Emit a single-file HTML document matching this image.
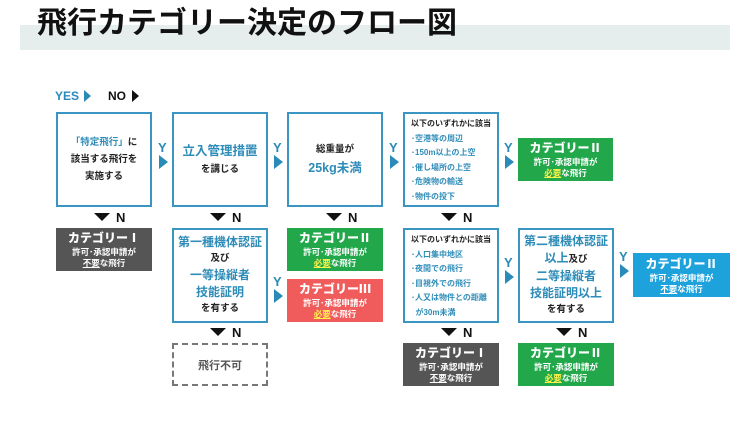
<!DOCTYPE html>
<html><head><meta charset="utf-8"><style>
body{margin:0;width:750px;height:446px;background:#fff;position:relative;overflow:hidden;font-family:"Liberation Sans","Noto Sans CJK JP",sans-serif;font-weight:bold}
.a{position:absolute;box-sizing:border-box}
.box{border:2.5px solid #3a95c2;background:#fff;display:flex;flex-direction:column;justify-content:center;align-items:center;text-align:center;color:#222;font-size:9.5px;line-height:17px;white-space:nowrap}
.bl{color:#2e8cb8}
.big{font-size:12.5px;line-height:20px}
.list{align-items:flex-start;justify-content:flex-start;padding:3px 0 0 6px;font-size:8px;line-height:14.6px;text-align:left}
.cat{display:flex;flex-direction:column;justify-content:center;align-items:center;color:#fff;text-align:center;font-size:8.5px;line-height:11px}
.cat b{font-size:12px;line-height:17px}
.g{background:#22a84b}.d{background:#555}.r{background:#f05b5b}.c{background:#1ea2dc}
.y{color:#fff34a;text-decoration:underline}
.tri{width:0;height:0;border-top:7px solid transparent;border-bottom:7px solid transparent;border-left:9px solid #2a8ab8}
.Y{color:#2a8ab8;font-size:13px}
.dn{width:0;height:0;border-left:8px solid transparent;border-right:8px solid transparent;border-top:8px solid #111}
.N{font-size:13px;color:#111}
.s{font-size:12px;line-height:17px}
</style></head><body>
<div class="a" style="left:20px;top:25px;width:710px;height:25px;background:#e6eded"></div>
<div class="a" style="left:37px;top:6px;font-size:30px;line-height:36px;color:#111;white-space:nowrap">飛行カテゴリー決定のフロー図</div>
<div class="a" style="left:55px;top:89px;font-size:12px;color:#2a8ab8">YES</div>
<div class="a tri" style="left:84px;top:90px;border-top-width:6px;border-bottom-width:6px;border-left-width:7px"></div>
<div class="a" style="left:108px;top:89px;font-size:12px;color:#111">NO</div>
<div class="a tri" style="left:132px;top:90px;border-top-width:6px;border-bottom-width:6px;border-left-width:7px;border-left-color:#111"></div>

<div class="a box" style="left:56px;top:112px;width:96px;height:95px"><div><span class="bl">「特定飛行」</span>に</div><div>該当する飛行を</div><div>実施する</div></div>
<div class="a box" style="left:172px;top:112px;width:96px;height:95px"><div class="bl big">立入管理措置</div><div>を講じる</div></div>
<div class="a box" style="left:287px;top:112px;width:96px;height:95px"><div>総重量が</div><div class="bl big">25kg未満</div></div>
<div class="a box list" style="left:403px;top:112px;width:96px;height:95px"><div style="color:#222">以下のいずれかに該当</div><div class="bl">･空港等の周辺</div><div class="bl">･150m以上の上空</div><div class="bl">･催し場所の上空</div><div class="bl">･危険物の輸送</div><div class="bl">･物件の投下</div></div>
<div class="a cat g" style="left:518px;top:138px;width:95px;height:43px"><b>カテゴリーⅡ</b><div>許可･承認申請が</div><div><span class="y">必要</span>な飛行</div></div>

<div class="a Y" style="left:158px;top:140px">Y</div><div class="a tri" style="left:159px;top:155px"></div>
<div class="a Y" style="left:273px;top:140px">Y</div><div class="a tri" style="left:274px;top:155px"></div>
<div class="a Y" style="left:389px;top:140px">Y</div><div class="a tri" style="left:390px;top:155px"></div>
<div class="a Y" style="left:504px;top:140px">Y</div><div class="a tri" style="left:505px;top:155px"></div>

<div class="a dn" style="left:94px;top:213px"></div><div class="a N" style="left:116px;top:210px">N</div>
<div class="a dn" style="left:210px;top:213px"></div><div class="a N" style="left:232px;top:210px">N</div>
<div class="a dn" style="left:326px;top:213px"></div><div class="a N" style="left:348px;top:210px">N</div>
<div class="a dn" style="left:441px;top:213px"></div><div class="a N" style="left:463px;top:210px">N</div>

<div class="a cat d" style="left:56px;top:228px;width:96px;height:43px"><b>カテゴリーⅠ</b><div>許可･承認申請が</div><div><u>不要</u>な飛行</div></div>
<div class="a box" style="left:172px;top:228px;width:96px;height:95px;line-height:16px"><div class="bl s">第一種機体認証</div><div>及び</div><div class="bl s">一等操縦者</div><div class="bl s">技能証明</div><div>を有する</div></div>
<div class="a cat g" style="left:287px;top:228px;width:96px;height:43px"><b>カテゴリーⅡ</b><div>許可･承認申請が</div><div><span class="y">必要</span>な飛行</div></div>
<div class="a cat r" style="left:287px;top:279px;width:96px;height:43px"><b>カテゴリーⅢ</b><div>許可･承認申請が</div><div><span class="y">必要</span>な飛行</div></div>
<div class="a box list" style="left:403px;top:228px;width:96px;height:95px"><div style="color:#222">以下のいずれかに該当</div><div class="bl">･人口集中地区</div><div class="bl">･夜間での飛行</div><div class="bl">･目視外での飛行</div><div class="bl">･人又は物件との距離</div><div class="bl">&nbsp;&nbsp;が30m未満</div></div>
<div class="a box" style="left:518px;top:228px;width:96px;height:95px;line-height:16px"><div class="bl s">第二種機体認証</div><div><span class="bl s">以上</span>及び</div><div class="bl s">二等操縦者</div><div class="bl s">技能証明以上</div><div>を有する</div></div>
<div class="a cat c" style="left:633px;top:253px;width:97px;height:44px"><b>カテゴリーⅡ</b><div>許可･承認申請が</div><div><u>不要</u>な飛行</div></div>

<div class="a Y" style="left:273px;top:274px">Y</div><div class="a tri" style="left:274px;top:289px"></div>
<div class="a Y" style="left:504px;top:255px">Y</div><div class="a tri" style="left:505px;top:270px"></div>
<div class="a Y" style="left:619px;top:249px">Y</div><div class="a tri" style="left:620px;top:264px"></div>

<div class="a dn" style="left:210px;top:328px"></div><div class="a N" style="left:232px;top:325px">N</div>
<div class="a dn" style="left:441px;top:328px"></div><div class="a N" style="left:463px;top:325px">N</div>
<div class="a dn" style="left:556px;top:328px"></div><div class="a N" style="left:578px;top:325px">N</div>

<div class="a" style="left:172px;top:343px;width:96px;height:43px;border:2px dashed #777;display:flex;align-items:center;justify-content:center;color:#555;font-size:11px">飛行不可</div>
<div class="a cat d" style="left:403px;top:343px;width:96px;height:43px"><b>カテゴリーⅠ</b><div>許可･承認申請が</div><div><u>不要</u>な飛行</div></div>
<div class="a cat g" style="left:518px;top:343px;width:96px;height:43px"><b>カテゴリーⅡ</b><div>許可･承認申請が</div><div><span class="y">必要</span>な飛行</div></div>
</body></html>
